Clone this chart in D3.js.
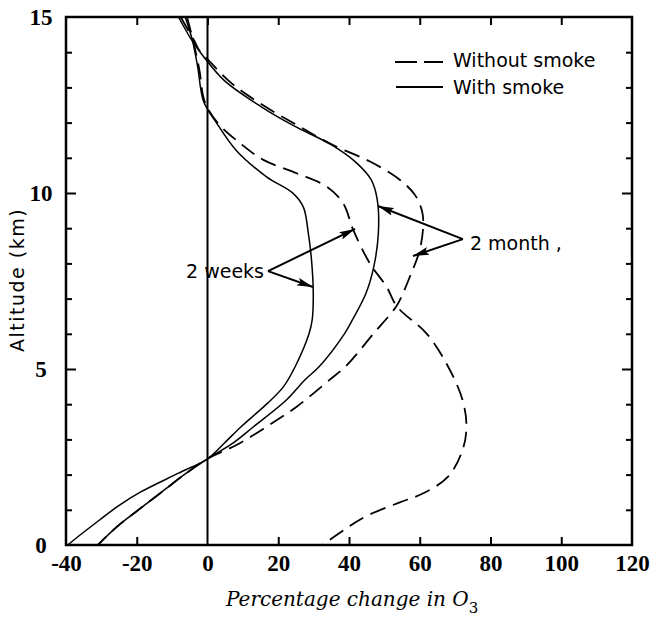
<!DOCTYPE html>
<html>
<head>
<meta charset="utf-8">
<script src="https://cdn.jsdelivr.net/npm/d3@7/dist/d3.min.js"></script>
<style>
  html, body { margin: 0; padding: 0; background: #fff; }
  svg { display: block; }
</style>
</head>
<body>
<svg id="chart" width="650" height="622"></svg>
<script>
// ---------------- DATA ----------------
const xTickValues = [-40, -20, 0, 20, 40, 60, 80, 100, 120];
const xTickLabels = ["-40", "-20", "0", "20", "40", "60", "80", "100", "120"];
const yTickValues = [0, 5, 10, 15];
const yTickLabels = ["0", "5", "10", "15"];
const yMinorTicks = [0,1,2,3,4,5,6,7,8,9,10,11,12,13,14,15];

// 2 weeks, with smoke (solid)
const weeksSmokeAlt = [15, 14.35, 13.6, 12.6, 12.0, 11.2, 10.46, 9.99, 9.6, 8.86, 8.1, 7.15, 6.4, 6.0, 5.07, 4.5, 4.03, 3.36, 2.9, 2.45, 2.04, 1.5, 1.09, 0.71, 0.34, 0];
const weeksSmokePct = [-6.3, -4.3, -2.8, -1.1, 2.5, 8.2, 16.7, 24.2, 27.1, 28.5, 29.4, 29.9, 29.6, 28.7, 24.8, 21.5, 17, 9.5, 4.8, 0, -8.2, -19, -25.5, -30.5, -35.3, -39.5];

// 2 weeks, without smoke (dashed)
const weeksNoSmokeAlt = [15, 14.3, 13.5, 12.6, 12.0, 11.4, 10.94, 10.56, 10.18, 9.7, 8.95, 8.0, 7.34, 6.77, 6.0, 5.07, 4.12, 3.36, 2.7, 1.94, 1.47, 1.19, 0.8, 0.43, 0];
const weeksNoSmokePct = [-5.8, -4, -2.3, -0.8, 2.8, 9.4, 15.8, 25.2, 33.7, 38.4, 41.2, 45.9, 50.6, 53.6, 62, 68, 72.1, 73.2, 72.1, 68, 61, 53.8, 44.5, 38.6, 32.5];

// 2 months, with smoke (solid)
const monthsSmokeAlt = [15, 14.3, 13.9, 13.2, 12.45, 11.9, 11.36, 10.85, 10.37, 9.8, 8.86, 7.9, 7.15, 6.4, 6.0, 5.07, 4.69, 4.12, 3.36, 2.9, 2.45, 2.04, 1.5, 1.0, 0.5, 0];
const monthsSmokePct = [-8.2, -4.2, -1.3, 4.7, 15.2, 24.6, 35.2, 42.2, 46.3, 48.0, 48.3, 47.0, 44.8, 41.0, 38.7, 31.6, 27.5, 22.3, 13, 7.3, 0, -6, -13, -19.5, -25.8, -31];

// 2 months, without smoke (dashed)
const monthsNoSmokeAlt = [15, 14.3, 14.06, 13.8, 13.1, 12.45, 11.9, 11.36, 10.9, 10.42, 9.95, 9.5, 9.14, 8.38, 7.62, 7.05, 6.77, 6.0, 5.07, 4.69, 3.93, 3.36, 2.84, 2.45, 2.04, 1.5, 1.0, 0.5, 0];
const monthsNoSmokePct = [-7.6, -3.6, -2.4, 0, 7, 16.4, 25.8, 35.5, 45.8, 53.8, 58.6, 60.6, 61, 60, 57.2, 54.8, 53.3, 46.9, 39, 34.5, 25.2, 16.7, 8.2, 0, -6, -13, -19.5, -25.8, -31];

const seriesNames = ["2 weeks with smoke", "2 weeks without smoke", "2 months with smoke", "2 months without smoke"];

// annotation anchors (data units: pct, altitude)
const weeksLabel = "2 weeks";
const weeksAnchor = [17.1, 7.78];
const weeksTips = [[41.7, 8.98], [29.8, 7.33]];
const monthsLabel = "2 month ,";
const monthsAnchor = [72.2, 8.69];
const monthsTips = [[48.2, 9.63], [58.1, 8.21]];

const legendLabels = ["Without smoke", "With smoke"];

// ---------------- DRAW ----------------
const svg = d3.select("#chart");
const pL = 66, pR = 632, pT = 17, pB = 545;
const x = d3.scaleLinear().domain([-40, 120]).range([pL, pR]);
const y = d3.scaleLinear().domain([0, 15]).range([pB, pT]);

const zip = (a, b) => a.map((v, i) => [b[i], v]);
const series = [
  { name: seriesNames[0], pts: zip(weeksSmokeAlt, weeksSmokePct), dashed: false },
  { name: seriesNames[1], pts: zip(weeksNoSmokeAlt, weeksNoSmokePct), dashed: true },
  { name: seriesNames[2], pts: zip(monthsSmokeAlt, monthsSmokePct), dashed: false },
  { name: seriesNames[3], pts: zip(monthsNoSmokeAlt, monthsNoSmokePct), dashed: true }
];

// zero line
svg.append("line")
  .attr("x1", x(0)).attr("x2", x(0))
  .attr("y1", y(0)).attr("y2", y(15))
  .attr("stroke", "#000").attr("stroke-width", 2);

const line = d3.line()
  .x(d => x(d[0])).y(d => y(d[1]))
  .curve(d3.curveCatmullRom.alpha(0.5));

svg.append("g").selectAll("path").data(series).join("path")
  .attr("d", d => line(d.pts))
  .attr("fill", "none")
  .attr("stroke", "#000")
  .attr("stroke-width", d => d.dashed ? 1.8 : 1.5)
  .attr("stroke-dasharray", d => d.dashed ? "16,8" : null);

// axes
const tickFont = "'Liberation Serif', serif";
const xAxisB = d3.axisBottom(x).tickValues(xTickValues)
  .tickFormat((d, i) => xTickLabels[i]).tickSizeInner(-8).tickSizeOuter(0).tickPadding(10);
const gxB = svg.append("g").attr("transform", `translate(0,${pB})`).call(xAxisB);
const xAxisT = d3.axisTop(x).tickValues(xTickValues.slice(1, -1))
  .tickFormat("").tickSizeInner(-8).tickSizeOuter(0);
const gxT = svg.append("g").attr("transform", `translate(0,${pT})`).call(xAxisT);

const yAxisL = d3.axisLeft(y).tickValues(yMinorTicks)
  .tickFormat("").tickSizeInner(-6).tickSizeOuter(0);
const gyL = svg.append("g").attr("transform", `translate(${pL},0)`).call(yAxisL);
const yAxisR = d3.axisRight(y).tickValues(yMinorTicks)
  .tickFormat("").tickSizeInner(-6).tickSizeOuter(0);
const gyR = svg.append("g").attr("transform", `translate(${pR},0)`).call(yAxisR);

gyL.selectAll(".tick line").attr("x2", d => (d % 5 === 0 ? 10 : 6));
gyR.selectAll(".tick line").attr("x2", d => -(d % 5 === 0 ? 10 : 6));

[gxB, gxT, gyL, gyR].forEach(g => {
  g.select(".domain").remove();
  g.selectAll(".tick line").attr("stroke", "#000").attr("stroke-width", 2);
});
gxB.selectAll(".tick line").filter(d => d === -40 || d === 120 || d === 0).remove();
gyL.selectAll(".tick line").filter(d => d === 0 || d === 15).remove();
gyR.selectAll(".tick line").filter(d => d === 0 || d === 15).remove();

gxB.selectAll(".tick text")
  .attr("font-family", tickFont).attr("font-size", 23).attr("font-weight", "bold")
  .attr("fill", "#000");

// y labels
svg.append("g").selectAll("text").data(yTickValues).join("text")
  .attr("x", 41).attr("y", d => y(d) + 8)
  .attr("text-anchor", "middle")
  .attr("font-family", tickFont).attr("font-size", 23).attr("font-weight", "bold")
  .text((d, i) => yTickLabels[i]);

// frame
svg.append("rect")
  .attr("x", pL).attr("y", pT)
  .attr("width", pR - pL).attr("height", pB - pT)
  .attr("fill", "none").attr("stroke", "#000").attr("stroke-width", 2.5);

// axis titles
svg.append("text")
  .attr("transform", `translate(24,280) rotate(-90)`)
  .attr("text-anchor", "middle")
  .attr("font-family", "'DejaVu Sans', sans-serif").attr("font-size", 19)
  .attr("letter-spacing", 1.5)
  .text("Altitude (km)");

const xt = svg.append("text")
  .attr("x", 226).attr("y", 606)
  .attr("font-family", "'DejaVu Serif', serif").attr("font-size", 20)
  .attr("font-style", "italic");
xt.append("tspan").text("Percentage change in O");
xt.append("tspan").attr("dy", 7).attr("font-size", 15).attr("font-style", "normal").text("3");

// legend
const legFont = "'DejaVu Sans', sans-serif";
const leg = svg.append("g");
leg.append("line").attr("x1", 395).attr("x2", 443).attr("y1", 62).attr("y2", 62)
  .attr("stroke", "#000").attr("stroke-width", 1.8).attr("stroke-dasharray", "22,7");
leg.append("line").attr("x1", 396).attr("x2", 443).attr("y1", 87).attr("y2", 87)
  .attr("stroke", "#000").attr("stroke-width", 1.8);
leg.selectAll("text").data(legendLabels).join("text")
  .attr("x", 453).attr("y", (d, i) => 67 + i * 27)
  .attr("font-family", legFont).attr("font-size", 19)
  .text(d => d);

// arrows
const defs = svg.append("defs");
defs.append("marker").attr("id", "ah")
  .attr("viewBox", "0 0 16 8").attr("refX", 16).attr("refY", 4)
  .attr("markerWidth", 16).attr("markerHeight", 8)
  .attr("markerUnits", "userSpaceOnUse").attr("orient", "auto")
  .append("path").attr("d", "M0,0 L16,4 L0,8 L3,4 Z").attr("fill", "#000");

const arrows = [
  ...weeksTips.map(t => [weeksAnchor, t]),
  ...monthsTips.map(t => [monthsAnchor, t])
];
svg.append("g").selectAll("line").data(arrows).join("line")
  .attr("x1", d => x(d[0][0])).attr("y1", d => y(d[0][1]))
  .attr("x2", d => x(d[1][0])).attr("y2", d => y(d[1][1]))
  .attr("stroke", "#000").attr("stroke-width", 2)
  .attr("marker-end", "url(#ah)");

svg.append("text")
  .attr("x", x(weeksAnchor[0]) - 4).attr("y", y(weeksAnchor[1]) + 7)
  .attr("text-anchor", "end")
  .attr("font-family", legFont).attr("font-size", 19)
  .text(weeksLabel);
svg.append("text")
  .attr("x", x(monthsAnchor[0]) + 7).attr("y", y(monthsAnchor[1]) + 11)
  .attr("font-family", legFont).attr("font-size", 19)
  .text(monthsLabel);
</script>
</body>
</html>
